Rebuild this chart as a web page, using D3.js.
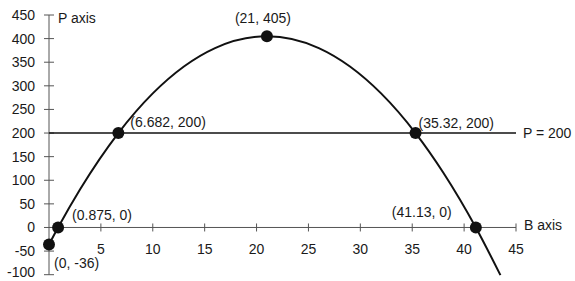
<!DOCTYPE html>
<html>
<head>
<meta charset="utf-8">
<script src="https://cdn.jsdelivr.net/npm/d3@7"></script>
<style>
  body { margin: 0; background: #fff; }
  text { font-family: "Liberation Sans", Arial, sans-serif; fill: #1a1a1a; }
</style>
</head>
<body>
<svg id="chart" width="575" height="281"></svg>
<script>
// Curve samples (B, P)
const curve_b = [0, 0.875, 3, 6.682, 10, 13, 16, 21, 26, 29, 32, 35.32, 38, 41.13, 43.5];
const curve_p = [-36, 0, 81, 200, 284, 341, 380, 405, 380, 341, 284, 200, 116, 0, -101];

// Marked points and their labels
const point_b = [0, 0.875, 6.682, 21, 35.32, 41.13];
const point_p = [-36, 0, 200, 405, 200, 0];
const point_labels = ["(0, -36)", "(0.875, 0)", "(6.682, 200)", "(21, 405)", "(35.32, 200)", "(41.13, 0)"];

const x_ticks = [5, 10, 15, 20, 25, 30, 35, 40, 45];
const y_ticks = [-100, -50, 0, 50, 100, 150, 200, 250, 300, 350, 400, 450];
const level_p = 200;

// label offsets (dx, dy, anchor) relative to each point
const label_pos = [
    [5, 19, "start"],
    [14, -12, "start"],
    [12, -11, "start"],
    [-4, -18, "middle"],
    [3, -10, "start"],
    [-84, -15, "start"]
];

const svg = d3.select("#chart");

const x = d3.scaleLinear().domain([0, 45]).range([49, 516]);
const y = d3.scaleLinear().domain([-100, 450]).range([274.7, 15]);

const axis_color = "#555";

// y axis
svg.append("line")
    .attr("x1", x(0)).attr("x2", x(0))
    .attr("y1", y(-100)).attr("y2", y(450))
    .attr("stroke", axis_color).attr("stroke-width", 1);

svg.selectAll(".ytick").data(y_ticks).enter().append("line")
    .attr("x1", x(0) - 5).attr("x2", x(0) + 5)
    .attr("y1", d => y(d)).attr("y2", d => y(d))
    .attr("stroke", axis_color);

// bottom label kept inside the window
svg.selectAll(".ylab").data(y_ticks).enter().append("text")
    .attr("x", 35).attr("y", d => Math.min(y(d), 272.5))
    .attr("dy", "0.35em")
    .attr("text-anchor", "end")
    .style("font-size", "14px")
    .text(d => d);

// x axis
svg.append("line")
    .attr("x1", x(0)).attr("x2", x(45))
    .attr("y1", y(0)).attr("y2", y(0))
    .attr("stroke", axis_color).attr("stroke-width", 1);

svg.selectAll(".xtick").data(x_ticks).enter().append("line")
    .attr("x1", d => x(d)).attr("x2", d => x(d))
    .attr("y1", y(0) - 4).attr("y2", y(0) + 4)
    .attr("stroke", axis_color);

svg.selectAll(".xlab").data(x_ticks).enter().append("text")
    .attr("x", d => x(d)).attr("y", y(0) + 22)
    .attr("dy", "0.35em")
    .attr("text-anchor", "middle")
    .style("font-size", "14px")
    .text(d => d);

// axis names
svg.append("text").attr("x", 58).attr("y", 18).attr("dy", "0.35em")
    .style("font-size", "14px").text("P axis");
svg.append("text").attr("x", 524).attr("y", y(0) - 2).attr("dy", "0.35em")
    .style("font-size", "14px").text("B axis");

// P = 200 line
svg.append("line")
    .attr("x1", x(0)).attr("x2", x(45))
    .attr("y1", y(level_p)).attr("y2", y(level_p))
    .attr("stroke", "#111").attr("stroke-width", 1.6);
svg.append("text").attr("x", 523).attr("y", y(level_p)).attr("dy", "0.35em")
    .style("font-size", "14px").text("P = 200");

// parabola
const curve_data = curve_b.map((b, i) => [b, curve_p[i]]);
const line = d3.line()
    .x(d => x(d[0]))
    .y(d => y(d[1]))
    .curve(d3.curveMonotoneX);

svg.append("path")
    .attr("d", line(curve_data))
    .attr("fill", "none")
    .attr("stroke", "#111")
    .attr("stroke-width", 2);

// points
const pts = point_b.map((b, i) => ({b: b, p: point_p[i], label: point_labels[i], pos: label_pos[i]}));

svg.selectAll(".pt").data(pts).enter().append("circle")
    .attr("cx", d => x(d.b)).attr("cy", d => y(d.p))
    .attr("r", 6)
    .attr("fill", "#111");

svg.selectAll(".ptlab").data(pts).enter().append("text")
    .attr("x", d => x(d.b) + d.pos[0])
    .attr("y", d => y(d.p) + d.pos[1])
    .attr("dy", "0.35em")
    .attr("text-anchor", d => d.pos[2])
    .style("font-size", "14px")
    .text(d => d.label);
</script>
</body>
</html>
